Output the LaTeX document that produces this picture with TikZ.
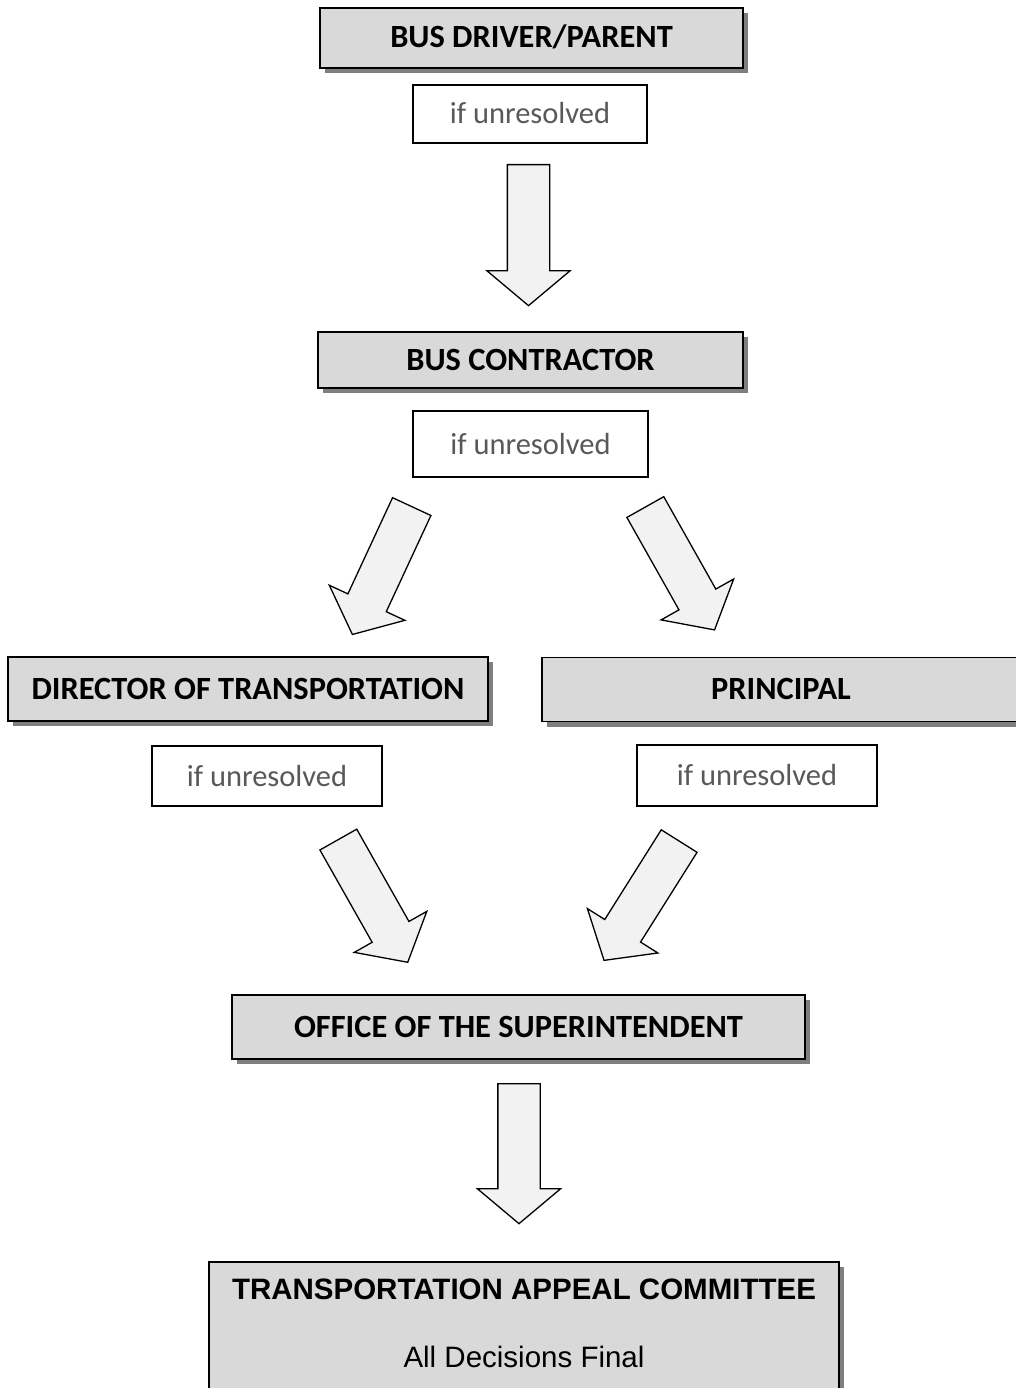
\documentclass[tikz,border=0pt]{standalone}
\usepackage{fontspec}
\setmainfont{Carlito}
\newfontfamily\arialfont{Liberation Sans}
\usepackage{tikz}
\usetikzlibrary{shapes.arrows}
\usetikzlibrary{shadows}

\definecolor{boxgray}{HTML}{D9D9D9}
\definecolor{shadowgray}{HTML}{7F7F7F}
\definecolor{arrowgray}{HTML}{F2F2F2}
\definecolor{notegray}{HTML}{595959}

\tikzset{
  level/.style={draw, line width=1.8pt, fill=boxgray, inner sep=0pt,
    font=\bfseries\fontsize{32.4}{38}\selectfont, text height=20pt, text depth=0pt,
    drop shadow={shadow xshift=5pt, shadow yshift=-5pt, fill=shadowgray, opacity=1}},
  note/.style={draw, line width=1.4pt, fill=white, inner sep=0pt, text=notegray,
    font=\fontsize{30.5}{36}\selectfont, text height=20pt, text depth=0pt},
  blockarrow/.style={single arrow, draw, line width=1.3pt, fill=arrowgray,
    inner xsep=0pt, inner ysep=20.5pt, single arrow head extend=20.5pt,
    single arrow tip angle=100, minimum height=141pt, anchor=tail}
}

\begin{document}
\begin{tikzpicture}[x=1pt, y=-1pt]
    \useasboundingbox (0,0) rectangle (1016,1388);

    % Levels
    \node[level, minimum width=423, minimum height=60] (bd) at (531.5,38) {BUS DRIVER/PARENT};
    \node[note, minimum width=234, minimum height=58] (n1) at (530,114) {if unresolved};
    \node[level, minimum width=425, minimum height=56] (bc) at (530.5,360) {BUS CONTRACTOR};
    \node[note, minimum width=235, minimum height=66] (n2) at (530.5,444) {if unresolved};
    \node[level, minimum width=480, minimum height=64] (dt) at (248,689) {DIRECTOR OF TRANSPORTATION};
    \node[level, minimum width=478, minimum height=64] (pr) at (781,689.5) {PRINCIPAL};
    \node[note, minimum width=230, minimum height=60] (n3) at (267,776) {if unresolved};
    \node[note, minimum width=240, minimum height=61] (n4) at (757,775.5) {if unresolved};
    \node[level, minimum width=573, minimum height=64] (os) at (518.5,1027) {OFFICE OF THE SUPERINTENDENT};

    % Committee
    \node[level, anchor=north, minimum width=630, minimum height=160] (tac) at (524,1261) {};
    \node[anchor=base, font=\arialfont\bfseries\fontsize{29.5}{34}\selectfont] (tact) at (524,1299) {TRANSPORTATION APPEAL COMMITTEE};
    \node[anchor=base, font=\arialfont\fontsize{29.5}{34}\selectfont] (tacn) at (524,1367) {All Decisions Final};

    % Arrows
    \node[blockarrow, rotate=-90] (a1) at (528.5,164) {};
    \node[blockarrow, rotate=245.1] (a2) at (412,506) {};
    \node[blockarrow, rotate=-60.6] (a3) at (645,506.5) {};
    \node[blockarrow, rotate=-60.5] (a4) at (338,839) {};
    \node[blockarrow, rotate=237.8] (a5) at (679.5,840.5) {};
    \node[blockarrow, rotate=-90, minimum height=140] (a6) at (519,1083) {};
\end{tikzpicture}
\end{document}
